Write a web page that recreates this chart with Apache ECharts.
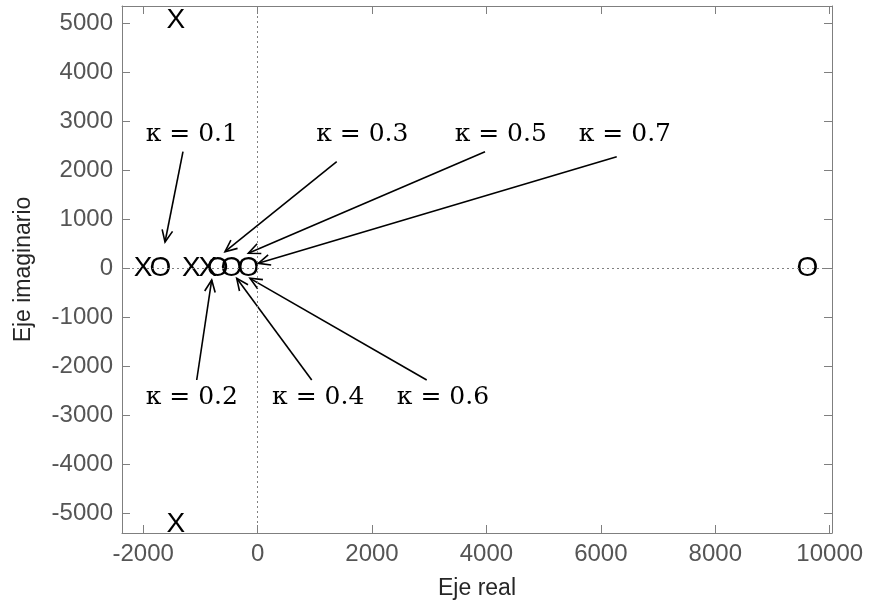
<!DOCTYPE html>
<html>
<head>
<meta charset="utf-8">
<script src="https://cdn.jsdelivr.net/npm/echarts@6/dist/echarts.min.js"></script>
<style>
html,body{margin:0;padding:0;background:#fff;}
#chart{width:872px;height:610px;}
</style>
</head>
<body>
<div id="chart"></div>
<script>
// Axis ticks
const xTicks = [-2000, 0, 2000, 4000, 6000, 8000, 10000];
const yTicks = [-5000, -4000, -3000, -2000, -1000, 0, 1000, 2000, 3000, 4000, 5000];

// Pole (X) and zero (O) markers
const markerChars = ['X', 'O', 'X', 'X', 'O', 'O', 'O', 'O', 'X', 'X'];
const markerRe = [-2000, -1700, -1160, -870, -700, -460, -160, 9610, -1430, -1430];
const markerIm = [0, 0, 0, 0, 0, 0, 0, 0, 5060, -5230];

// κ annotations
const kappaText = ['κ = 0.1', 'κ = 0.2', 'κ = 0.3', 'κ = 0.4', 'κ = 0.5', 'κ = 0.6', 'κ = 0.7'];
const kappaLabelRe = [-1150, -1150, 1830, 1060, 4250, 3240, 6420];
const kappaLabelIm = [2720, -2630, 2720, -2630, 2720, -2630, 2720];
const arrowTailRe = [-1304, -1064, 1383, 946, 3975, 2956, 6277];
const arrowTailIm = [2378, -2279, 2174, -2279, 2378, -2279, 2276];
const arrowHeadRe = [-1618, -802, -570, -365, -162, -133, 12];
const arrowHeadIm = [536, -239, 338, -205, 305, -205, 101];

const axisColor = '#7f7f7f';
const labelColor = '#555555';
const titleColor = '#262626';

const markerData = markerRe.map((x, i) => [x, markerIm[i], i]);
const kappaData = kappaLabelRe.map((x, i) => [x, kappaLabelIm[i], i]);
const arrowData = arrowTailRe.map((x, i) => [x, arrowTailIm[i], arrowHeadRe[i], arrowHeadIm[i]]);

function baseX(pos, showLabel) {
  return {
    type: 'value', position: pos, min: -2370, max: 10040,
    axisLine: { show: true, onZero: false, lineStyle: { color: axisColor, width: 1 } },
    axisTick: { show: true, inside: true, length: 8, customValues: xTicks, lineStyle: { color: axisColor } },
    axisLabel: { show: showLabel, customValues: xTicks, formatter: v => String(v), color: labelColor,
      fontFamily: 'Liberation Sans', fontSize: 24, margin: 9 },
    splitLine: { show: false }
  };
}
function baseY(pos, showLabel) {
  return {
    type: 'value', position: pos, min: -5400, max: 5350,
    axisLine: { show: true, onZero: false, lineStyle: { color: axisColor, width: 1 } },
    axisTick: { show: true, inside: true, length: 8, customValues: yTicks, lineStyle: { color: axisColor } },
    axisLabel: { show: showLabel, customValues: yTicks, formatter: v => String(v), color: labelColor,
      fontFamily: 'Liberation Sans', fontSize: 24, margin: 9 },
    splitLine: { show: false }
  };
}

const xa = baseX('bottom', true);
xa.name = 'Eje real'; xa.nameLocation = 'middle'; xa.nameGap = 44;
xa.nameTextStyle = { color: titleColor, fontFamily: 'Liberation Sans', fontSize: 23 };
const ya = baseY('left', true);
ya.name = 'Eje imaginario'; ya.nameLocation = 'middle'; ya.nameGap = 87;
ya.nameTextStyle = { color: titleColor, fontFamily: 'Liberation Sans', fontSize: 23 };

const chart = echarts.init(document.getElementById('chart'), null, { renderer: 'canvas' });
chart.setOption({
  backgroundColor: '#fff',
  animation: false,
  grid: { left: 122, right: 40, top: 6, bottom: 77 },
  xAxis: [xa, baseX('top', false)],
  yAxis: [ya, baseY('right', false)],
  series: [
    {
      type: 'scatter', xAxisIndex: 0, yAxisIndex: 0, symbolSize: 0, silent: true,
      data: markerData,
      markLine: {
        silent: true, symbol: ['none', 'none'], label: { show: false },
        lineStyle: { type: [2, 3], color: '#808080', width: 1 },
        data: [{ yAxis: 0 }, { xAxis: 0 }]
      }
    },
    {
      type: 'custom', xAxisIndex: 0, yAxisIndex: 0, clip: false, silent: true,
      data: arrowData,
      encode: { x: [0, 2], y: [1, 3] },
      renderItem: function (params, api) {
        const t = api.coord([api.value(0), api.value(1)]);
        const h = api.coord([api.value(2), api.value(3)]);
        const ang = Math.atan2(h[1] - t[1], h[0] - t[0]);
        const L = 13, a = 0.42;
        const p1 = [h[0] - L * Math.cos(ang - a), h[1] - L * Math.sin(ang - a)];
        const p2 = [h[0] - L * Math.cos(ang + a), h[1] - L * Math.sin(ang + a)];
        return {
          type: 'group',
          children: [
            { type: 'line', shape: { x1: t[0], y1: t[1], x2: h[0], y2: h[1] },
              style: { stroke: '#000', lineWidth: 1.6 } },
            { type: 'polyline', shape: { points: [p1, h, p2] },
              style: { stroke: '#000', lineWidth: 1.6, fill: null } }
          ]
        };
      }
    },
    {
      type: 'custom', xAxisIndex: 0, yAxisIndex: 0, clip: false, silent: true,
      data: markerData,
      renderItem: function (params, api) {
        const p = api.coord([api.value(0), api.value(1)]);
        return {
          type: 'text', x: p[0], y: p[1],
          style: { text: markerChars[api.value(2)], fill: '#000', font: '28px "Liberation Sans"',
            align: 'center', verticalAlign: 'middle' }
        };
      }
    },
    {
      type: 'custom', xAxisIndex: 0, yAxisIndex: 0, clip: false, silent: true,
      data: kappaData,
      renderItem: function (params, api) {
        const p = api.coord([api.value(0), api.value(1)]);
        return {
          type: 'text', x: p[0], y: p[1],
          style: { text: kappaText[api.value(2)], fill: '#000', font: '25px "DejaVu Serif"',
            align: 'center', verticalAlign: 'middle' }
        };
      }
    }
  ]
});
</script>
</body>
</html>
